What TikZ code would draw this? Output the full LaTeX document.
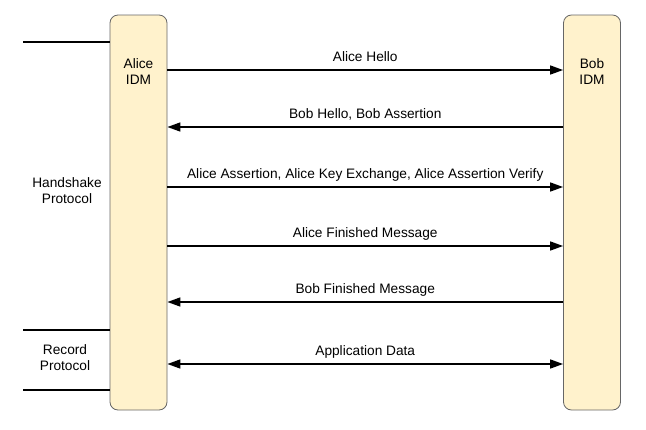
\documentclass[tikz,border=0pt]{standalone}
\usepackage{fontspec}
\setmainfont{Liberation Sans}
\usetikzlibrary{arrows.meta}
\definecolor{boxfill}{HTML}{FFF2CC}
\definecolor{boxline}{HTML}{666666}
\tikzset{
  idm/.style={draw=boxline, fill=boxfill, rounded corners=8pt, line width=0.8pt,
    minimum width=57pt, minimum height=395pt, inner sep=0pt},
  msg/.style={line width=1.6pt, -{Triangle[length=13pt,width=9pt]}},
  bmsg/.style={line width=1.6pt, {Triangle[length=13pt,width=9pt]}-{Triangle[length=13pt,width=9pt]}},
  sep/.style={line width=1.6pt},
  lbl/.style={font=\fontsize{13.7}{16}\selectfont, inner sep=0pt, anchor=base, yshift=9pt},
  blbl/.style={font=\fontsize{13.7}{16}\selectfont, align=center, inner sep=0pt}
}
\begin{document}
\begin{tikzpicture}[x=1pt,y=-1pt]
\useasboundingbox (0,0) rectangle (646,429);
\node[idm] (alice) at (138.5,212.5) {};
\node[idm] (bob) at (592,212.5) {};
\node[blbl, anchor=base] (at) at (138.5,84) {Alice\\IDM};
\node[blbl, anchor=base] (bt) at (592,84) {Bob\\IDM};
% separator lines
\coordinate (s1) at (23,42);
\coordinate (s2) at (23,330);
\coordinate (s3) at (23,390);
\draw[sep] (s1) -- (alice.west |- s1);
\draw[sep] (s2) -- (alice.west |- s2);
\draw[sep] (s3) -- (alice.west |- s3);
\node[blbl, anchor=base] (hs) at (67,203) {Handshake\\Protocol};
\node[blbl, anchor=base] (rp) at (65,370) {Record\\Protocol};
% messages
\coordinate (y1) at (0,70);
\coordinate (y2) at (0,127);
\coordinate (y3) at (0,187);
\coordinate (y4) at (0,246);
\coordinate (y5) at (0,302);
\coordinate (y6) at (0,364);
\draw[msg] (alice.east |- y1) -- node[lbl] (m1) {Alice Hello} (bob.west |- y1);
\draw[msg] (bob.west |- y2) -- node[lbl] (m2) {Bob Hello, Bob Assertion} (alice.east |- y2);
\draw[msg] (alice.east |- y3) -- node[lbl] (m3) {Alice Assertion, Alice Key Exchange, Alice Assertion Verify} (bob.west |- y3);
\draw[msg] (alice.east |- y4) -- node[lbl] (m4) {Alice Finished Message} (bob.west |- y4);
\draw[msg] (bob.west |- y5) -- node[lbl] (m5) {Bob Finished Message} (alice.east |- y5);
\draw[bmsg] (alice.east |- y6) -- node[lbl] (m6) {Application Data} (bob.west |- y6);
\end{tikzpicture}
\end{document}
